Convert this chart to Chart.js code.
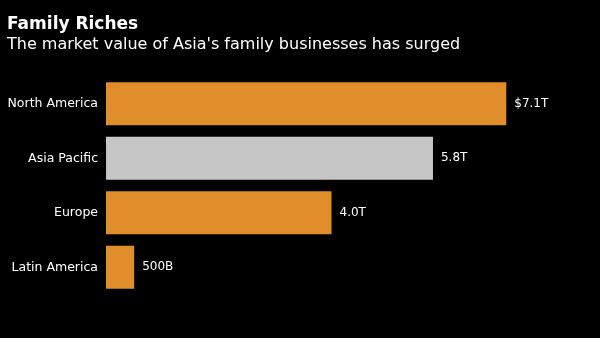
<!DOCTYPE html>
<html>
<head>
<meta charset="utf-8">
<script src="https://cdn.jsdelivr.net/npm/chart.js@4"></script>
<style>
  html, body { margin: 0; padding: 0; background: #000; }
  #wrap { position: relative; width: 600px; height: 338px; background: #000; overflow: hidden; }
  #title { position: absolute; left: 7px; top: 13px; color: #fff; font: bold 17px "DejaVu Sans", sans-serif; white-space: nowrap; }
  #subtitle { position: absolute; left: 7px; top: 34px; color: #fff; font: 16px "DejaVu Sans", sans-serif; white-space: nowrap; }
  canvas { position: absolute; left: 0; top: 0; }
</style>
</head>
<body>
<div id="wrap">
  <canvas id="c" width="600" height="338"></canvas>
  <div id="title">Family Riches</div>
  <div id="subtitle">The market value of Asia's family businesses has surged</div>
</div>
<script>
const categories = ["North America", "Asia Pacific", "Europe", "Latin America"];
const values = [7.1, 5.8, 4.0, 0.5];            // trillions USD
const valueLabels = ["$7.1T", "5.8T", "4.0T", "500B"];
const barColors = ["#E08E2B", "#C6C6C6", "#E08E2B", "#E08E2B"];

const valueLabelPlugin = {
  id: 'valueLabels',
  afterDatasetsDraw(chart) {
    const ctx = chart.ctx;
    const meta = chart.getDatasetMeta(0);
    ctx.save();
    ctx.fillStyle = '#ffffff';
    ctx.font = '12px "DejaVu Sans", sans-serif';
    ctx.textAlign = 'left';
    ctx.textBaseline = 'middle';
    meta.data.forEach((bar, i) => {
      ctx.fillText(valueLabels[i], bar.x + 8, bar.y);
    });
    ctx.restore();
  }
};

new Chart(document.getElementById('c'), {
  type: 'bar',
  data: {
    labels: categories,
    datasets: [{
      data: values,
      backgroundColor: barColors,
      borderWidth: 0,
      barPercentage: 0.79,
      categoryPercentage: 1.0
    }]
  },
  options: {
    indexAxis: 'y',
    responsive: false,
    animation: false,
    layout: { padding: { top: 76.5, bottom: 43.5, left: 0, right: 43 } },
    plugins: { legend: { display: false }, tooltip: { enabled: false }, title: { display: false } },
    scales: {
      x: { display: false, min: 0, max: 8 },
      y: {
        afterFit(scale) { scale.width = 106; },
        grid: { display: false },
        border: { display: false },
        ticks: { color: '#ffffff', font: { family: '"DejaVu Sans", sans-serif', size: 12.5 }, padding: 0 }
      }
    }
  },
  plugins: [valueLabelPlugin]
});
</script>
</body>
</html>
